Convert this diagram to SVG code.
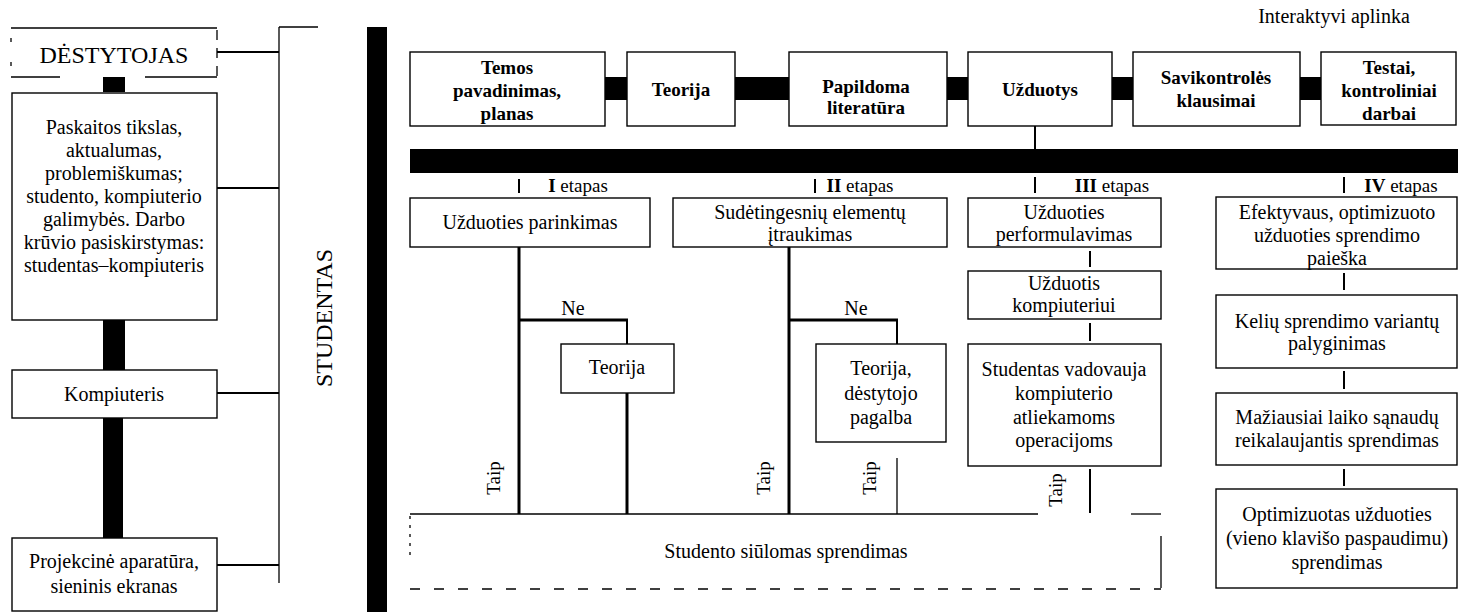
<svg xmlns="http://www.w3.org/2000/svg" width="1458" height="612" viewBox="0 0 1458 612">
<style>
text{font-family:"Liberation Serif","Times New Roman",serif;fill:#000;text-anchor:middle}
.t20{font-size:20px}
.t24{font-size:24px}
.b19{font-size:19px;font-weight:bold}
.st{font-size:19px}
.box{fill:#fff;stroke:#000;stroke-width:1.4}
.ln{stroke:#000;stroke-width:2;fill:none}
.thick{stroke:#000;stroke-width:3;fill:none}
.thin{stroke:#000;stroke-width:1.3;fill:none}
.dash{stroke:#000;stroke-width:1.3;fill:none;stroke-dasharray:10 14}
.blk{fill:#000}
</style>

<!-- connectors -->
<g id="connectors">
  <!-- left column -->
  <rect class="blk" x="103" y="77" width="22" height="15"/>
  <rect class="blk" x="103" y="320" width="22" height="50"/>
  <rect class="blk" x="103" y="418" width="20" height="120"/>
  <line class="ln" x1="217" y1="52" x2="279" y2="52"/>
  <line class="ln" x1="217" y1="188" x2="279" y2="188"/>
  <line class="ln" x1="217" y1="393" x2="279" y2="393"/>
  <line class="ln" x1="217" y1="565" x2="279" y2="565"/>
  <line class="thin" x1="279" y1="27" x2="279" y2="583"/>
  <line class="thin" x1="279" y1="27" x2="318" y2="27"/>
  <!-- separator bar -->
  <rect class="blk" x="367" y="27" width="20" height="585"/>
  <!-- top row links -->
  <rect class="blk" x="605" y="77" width="22" height="23"/>
  <rect class="blk" x="735" y="77" width="54" height="23"/>
  <rect class="blk" x="947" y="77" width="21" height="23"/>
  <rect class="blk" x="1112" y="77" width="21" height="23"/>
  <rect class="blk" x="1300" y="77" width="21" height="23"/>
  <line class="ln" x1="1035" y1="126" x2="1035" y2="149"/>
  <rect class="blk" x="410" y="149" width="1048" height="24"/>
  <!-- stage ticks -->
  <line class="ln" x1="519" y1="179" x2="519" y2="193"/>
  <line class="ln" x1="815" y1="179" x2="815" y2="193"/>
  <line class="ln" x1="1035" y1="177" x2="1035" y2="193"/>
  <line class="ln" x1="1344" y1="177" x2="1344" y2="193"/>
  <!-- stage I -->
  <line class="thick" x1="519" y1="247" x2="519" y2="514"/>
  <line class="thick" x1="519" y1="320" x2="628" y2="320"/>
  <line class="ln" x1="627" y1="320" x2="627" y2="344"/>
  <line class="thick" x1="627" y1="393" x2="627" y2="514"/>
  <!-- stage II -->
  <line class="thick" x1="789" y1="247" x2="789" y2="514"/>
  <line class="thick" x1="789" y1="320" x2="898" y2="320"/>
  <line class="ln" x1="897" y1="320" x2="897" y2="344"/>
  <line class="thin" x1="897" y1="458" x2="897" y2="514"/>
  <!-- stage III -->
  <line class="ln" x1="1090" y1="251" x2="1090" y2="267"/>
  <line class="ln" x1="1090" y1="323" x2="1090" y2="341"/>
  <line class="ln" x1="1090" y1="469" x2="1090" y2="513"/>
  <!-- stage IV -->
  <line class="ln" x1="1344" y1="273" x2="1344" y2="290"/>
  <line class="ln" x1="1344" y1="371" x2="1344" y2="389"/>
  <line class="ln" x1="1344" y1="469" x2="1344" y2="486"/>
</g>

<!-- labels -->
<g id="labels">
  <text x="1334" y="23" style="font-size:20px">Interaktyvi aplinka</text>
  <text class="t24" transform="translate(332,318) rotate(-90)">STUDENTAS</text>
  <text class="st" x="578" y="192"><tspan font-weight="bold">I</tspan> etapas</text>
  <text class="st" x="860" y="192"><tspan font-weight="bold">II</tspan> etapas</text>
  <text class="st" x="1112" y="192"><tspan font-weight="bold">III</tspan> etapas</text>
  <text class="st" x="1401" y="192"><tspan font-weight="bold">IV</tspan> etapas</text>
  <text class="t20" x="573" y="315">Ne</text>
  <text class="t20" x="856" y="315">Ne</text>
  <text class="st" transform="translate(500,478) rotate(-90)">Taip</text>
  <text class="st" transform="translate(770,478) rotate(-90)">Taip</text>
  <text class="st" transform="translate(876,478) rotate(-90)">Taip</text>
  <text class="st" transform="translate(1062,490) rotate(-90)">Taip</text>
</g>

<!-- left column nodes -->
<g id="destytojas">
  <line class="thin" x1="11" y1="28" x2="217" y2="28"/>
  <line class="thin" x1="11" y1="77" x2="60" y2="77"/>
  <line class="thin" x1="145" y1="77" x2="217" y2="77"/>
  <line class="thin" x1="11" y1="38" x2="11" y2="70" stroke-dasharray="4 20"/>
  <line class="thin" x1="217" y1="30" x2="217" y2="77" stroke-dasharray="10 8"/>
  <text class="t24" x="114" y="63">DĖSTYTOJAS</text>
</g>
<g id="paskaitos">
  <rect class="box" x="12" y="93" width="205" height="227"/>
  <text class="t20" x="114" y="134">Paskaitos tikslas,</text>
  <text class="t20" x="114" y="157">aktualumas,</text>
  <text class="t20" x="114" y="180">problemiškumas;</text>
  <text class="t20" x="114" y="203">studento, kompiuterio</text>
  <text class="t20" x="114" y="226">galimybės. Darbo</text>
  <text class="t20" x="114" y="249">krūvio pasiskirstymas:</text>
  <text class="t20" x="114" y="272">studentas–kompiuteris</text>
</g>
<g id="kompiuteris">
  <rect class="box" x="12" y="370" width="205" height="48"/>
  <text class="t20" x="114" y="401">Kompiuteris</text>
</g>
<g id="projekcine">
  <rect class="box" x="12" y="538" width="205" height="73"/>
  <text class="t20" x="114" y="568">Projekcinė aparatūra,</text>
  <text class="t20" x="114" y="593">sieninis ekranas</text>
</g>

<!-- top row -->
<g id="temos">
  <rect class="box" x="410" y="52" width="195" height="74"/>
  <text class="b19" x="507" y="74">Temos</text>
  <text class="b19" x="507" y="97">pavadinimas,</text>
  <text class="b19" x="507" y="120">planas</text>
</g>
<g id="teorija-top">
  <rect class="box" x="627" y="52" width="108" height="74"/>
  <text class="b19" x="681" y="96">Teorija</text>
</g>
<g id="papildoma">
  <rect class="box" x="789" y="52" width="158" height="74"/>
  <text class="b19" x="866" y="93">Papildoma</text>
  <text class="b19" x="866" y="114">literatūra</text>
</g>
<g id="uzduotys">
  <rect class="box" x="968" y="52" width="144" height="74"/>
  <text class="b19" x="1040" y="96">Užduotys</text>
</g>
<g id="savikontroles">
  <rect class="box" x="1133" y="52" width="167" height="74"/>
  <text class="b19" x="1216" y="84">Savikontrolės</text>
  <text class="b19" x="1216" y="107">klausimai</text>
</g>
<g id="testai">
  <rect class="box" x="1321" y="52" width="135" height="73"/>
  <text class="b19" x="1389" y="74">Testai,</text>
  <text class="b19" x="1389" y="97">kontroliniai</text>
  <text class="b19" x="1389" y="120">darbai</text>
</g>

<!-- stage I -->
<g id="uzduoties-parinkimas">
  <rect class="box" x="410" y="198" width="240" height="49"/>
  <text class="t20" x="530" y="229">Užduoties parinkimas</text>
</g>
<g id="teorija-1">
  <rect class="box" x="561" y="344" width="113" height="49"/>
  <text class="t20" x="617" y="374">Teorija</text>
</g>

<!-- stage II -->
<g id="sudetingesniu">
  <rect class="box" x="673" y="198" width="274" height="49"/>
  <text class="t20" x="810" y="219">Sudėtingesnių elementų</text>
  <text class="t20" x="810" y="241">įtraukimas</text>
</g>
<g id="teorija-destytojo">
  <rect class="box" x="816" y="344" width="130" height="98"/>
  <text class="t20" x="881" y="375">Teorija,</text>
  <text class="t20" x="881" y="400">dėstytojo</text>
  <text class="t20" x="881" y="424">pagalba</text>
</g>

<!-- stage III -->
<g id="performulavimas">
  <rect class="box" x="968" y="198" width="193" height="49"/>
  <text class="t20" x="1064" y="219">Užduoties</text>
  <text class="t20" x="1064" y="241">performulavimas</text>
</g>
<g id="uzduotis-kompiuteriui">
  <rect class="box" x="968" y="271" width="193" height="48"/>
  <text class="t20" x="1064" y="290">Užduotis</text>
  <text class="t20" x="1064" y="312">kompiuteriui</text>
</g>
<g id="studentas-vadovauja">
  <rect class="box" x="968" y="344" width="193" height="122"/>
  <text class="t20" x="1064" y="376">Studentas vadovauja</text>
  <text class="t20" x="1064" y="400">kompiuterio</text>
  <text class="t20" x="1064" y="424">atliekamoms</text>
  <text class="t20" x="1064" y="447">operacijoms</text>
</g>

<!-- stage IV -->
<g id="efektyvaus">
  <rect class="box" x="1216" y="197" width="241" height="72"/>
  <text class="t20" x="1337" y="219">Efektyvaus, optimizuoto</text>
  <text class="t20" x="1337" y="242">užduoties sprendimo</text>
  <text class="t20" x="1337" y="265">paieška</text>
</g>
<g id="keliu">
  <rect class="box" x="1216" y="295" width="241" height="73"/>
  <text class="t20" x="1337" y="328">Kelių sprendimo variantų</text>
  <text class="t20" x="1337" y="350">palyginimas</text>
</g>
<g id="maziausiai">
  <rect class="box" x="1216" y="393" width="241" height="72"/>
  <text class="t20" x="1337" y="424">Mažiausiai laiko sąnaudų</text>
  <text class="t20" x="1337" y="447">reikalaujantis sprendimas</text>
</g>
<g id="optimizuotas">
  <rect class="box" x="1216" y="489" width="241" height="99"/>
  <text class="t20" x="1337" y="521">Optimizuotas užduoties</text>
  <text class="t20" x="1337" y="545">(vieno klavišo paspaudimu)</text>
  <text class="t20" x="1337" y="569">sprendimas</text>
</g>

<!-- bottom -->
<g id="studento-sprendimas">
  <line class="thin" x1="410" y1="514" x2="1038" y2="514"/>
  <line class="thin" x1="1131" y1="514" x2="1161" y2="514"/>
  <line class="thin" x1="1161" y1="536" x2="1161" y2="588"/>
  <line class="dash" x1="410" y1="589" x2="1161" y2="589"/>
  <line class="thin" x1="410" y1="516" x2="410" y2="555" stroke-dasharray="3 6"/>
  <text class="t20" x="786" y="558">Studento siūlomas sprendimas</text>
</g>
</svg>
